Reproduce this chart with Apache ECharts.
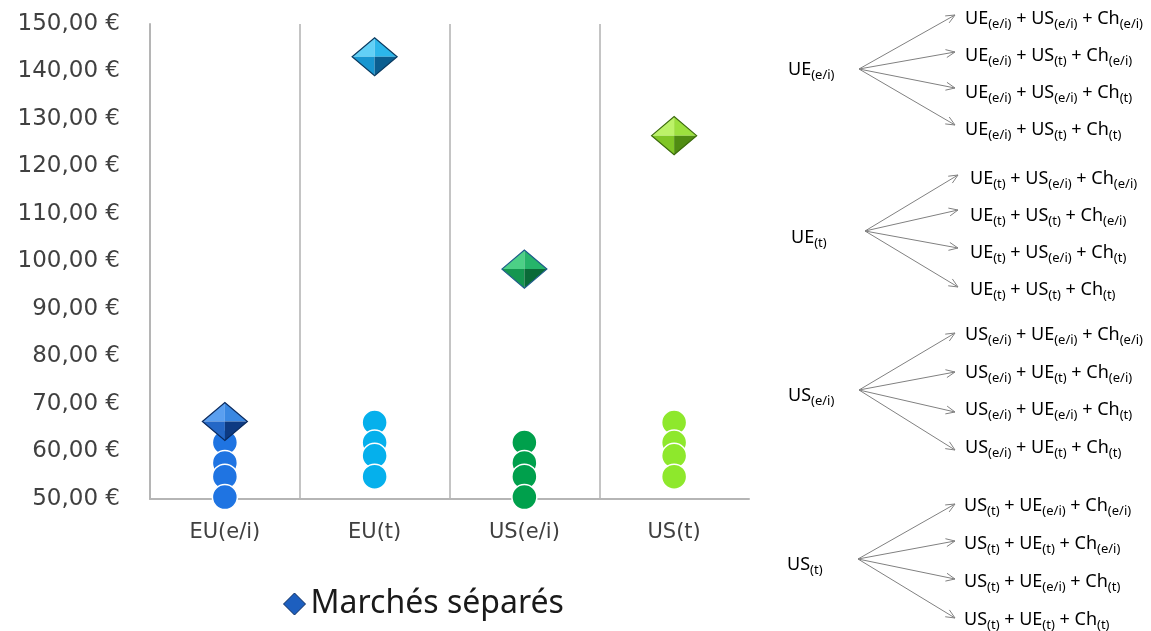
<!DOCTYPE html>
<html>
<head>
<meta charset="utf-8">
<title>Marchés séparés</title>
<script src="https://cdn.jsdelivr.net/npm/echarts@6/dist/echarts.min.js"></script>
<style>
  html, body { margin: 0; padding: 0; background: #fff; }
  #chart { width: 1151px; height: 631px; }
</style>
</head>
<body>
<div id="chart"></div>
<script>
// categories on the x axis
const categories = ['EU(e/i)', 'EU(t)', 'US(e/i)', 'US(t)'];
// y axis
const yMin = 50, yMax = 150, yStep = 10;

// diamonds : marchés séparés
const separateMarkets = [66.3, 143.1, 98.4, 126.5];

// circles : the 4 scenarios of each market (top to bottom)
const scenariosEUei = [61.9, 57.6, 54.7, 50.4];
const scenariosEUt  = [66.1, 61.9, 59.1, 54.7];
const scenariosUSei = [61.9, 57.6, 54.7, 50.4];
const scenariosUSt  = [66.1, 61.9, 59.1, 54.7];
const scenarios = [scenariosEUei, scenariosEUt, scenariosUSei, scenariosUSt];

// tree on the right ( "_" marks a subscript )
const treeRoots = ['UE_(e/i)', 'UE_(t)', 'US_(e/i)', 'US_(t)'];
const treeLeaves = [
  ['UE_(e/i) + US_(e/i) + Ch_(e/i)', 'UE_(e/i) + US_(t) + Ch_(e/i)', 'UE_(e/i) + US_(e/i) + Ch_(t)', 'UE_(e/i) + US_(t) + Ch_(t)'],
  ['UE_(t) + US_(e/i) + Ch_(e/i)', 'UE_(t) + US_(t) + Ch_(e/i)', 'UE_(t) + US_(e/i) + Ch_(t)', 'UE_(t) + US_(t) + Ch_(t)'],
  ['US_(e/i) + UE_(e/i) + Ch_(e/i)', 'US_(e/i) + UE_(t) + Ch_(e/i)', 'US_(e/i) + UE_(e/i) + Ch_(t)', 'US_(e/i) + UE_(t) + Ch_(t)'],
  ['US_(t) + UE_(e/i) + Ch_(e/i)', 'US_(t) + UE_(t) + Ch_(e/i)', 'US_(t) + UE_(e/i) + Ch_(t)', 'US_(t) + UE_(t) + Ch_(t)']
];

// styles
const circleColors = ['#1f74e2', '#05b0ec', '#00a04c', '#8ee82c'];
// diamond faces : top-left, top-right, bottom-left, bottom-right, edge
const diamondFaces = [
  ['#5a9ff0', '#3a88e2', '#2467c6', '#0d3a82', '#0a2a5e'],
  ['#62d0f6', '#2cb6ea', '#1896d0', '#0b5e90', '#0a3a60'],
  ['#4cd086', '#26b46a', '#149650', '#0a6a38', '#1d5a8a'],
  ['#bcf268', '#9ce03e', '#80c626', '#508c12', '#3a6a0a']
];
const treeLayout = [
  { rootX: 788, rootY: 70, forkX: 859, forkY: 69, tipX: 955, tips: [15, 52, 88, 125], leafX: 965, leafY: [19, 56, 93, 130] },
  { rootX: 791, rootY: 238, forkX: 865, forkY: 231, tipX: 958, tips: [175, 210, 248, 287], leafX: 970, leafY: [179, 216, 253, 290] },
  { rootX: 788, rootY: 396, forkX: 859, forkY: 390, tipX: 955, tips: [333, 372, 412, 450], leafX: 965, leafY: [335, 373, 410, 448] },
  { rootX: 787, rootY: 565, forkX: 858, forkY: 559, tipX: 955, tips: [504, 541, 579, 618], leafX: 964, leafY: [506, 544, 582, 620] }
];

function toRich(s) {
  return s.split(' ').map(function (part) {
    if (part === '+') return '{m| + }';
    const p = part.split('_');
    return '{m|' + p[0] + '}' + (p[1] ? '{s|' + p[1] + '}' : '');
  }).join('');
}
const richStyle = {
  m: { fontSize: 18, fontFamily: 'Noto Sans', color: '#111', lineHeight: 23 },
  s: { fontSize: 13, fontFamily: 'Noto Sans', color: '#111', lineHeight: 13, verticalAlign: 'bottom' }
};

function textEl(x, y, str) {
  return {
    type: 'text', x: x, y: y, silent: true,
    style: { text: toRich(str), rich: richStyle, verticalAlign: 'middle', align: 'left' }
  };
}

const graphics = [];
treeLayout.forEach(function (g, gi) {
  graphics.push(textEl(g.rootX, g.rootY, treeRoots[gi]));
  g.tips.forEach(function (ty, li) {
    const dx = g.tipX - g.forkX, dy = ty - g.forkY;
    const len = Math.sqrt(dx * dx + dy * dy);
    const ux = dx / len, uy = dy / len;
    const a = 9, b = 4;
    graphics.push({
      type: 'line', silent: true,
      shape: { x1: g.forkX, y1: g.forkY, x2: g.tipX, y2: ty },
      style: { stroke: '#808080', lineWidth: 1 }
    });
    graphics.push({
      type: 'polyline', silent: true,
      shape: { points: [
        [g.tipX - a * ux - b * uy, ty - a * uy + b * ux],
        [g.tipX, ty],
        [g.tipX - a * ux + b * uy, ty - a * uy - b * ux]
      ] },
      style: { stroke: '#808080', lineWidth: 1, fill: null }
    });
    graphics.push(textEl(g.leafX, g.leafY[li], treeLeaves[gi][li]));
  });
});

const circleData = [];
scenarios.forEach(function (arr, i) {
  arr.forEach(function (v) {
    circleData.push({ value: [i, v], itemStyle: { color: circleColors[i] } });
  });
});
const diamondData = separateMarkets.map(function (v, i) { return [i, v]; });

const chart = echarts.init(document.getElementById('chart'));
chart.setOption({
  animation: false,
  grid: { left: 150, right: 402, top: 24, bottom: 132 },
  legend: {
    data: [{ name: 'Marchés séparés', icon: 'diamond', itemStyle: { color: '#1d5fbf', borderColor: '#0a2a5e', borderWidth: 1 } }],
    left: 278, top: 583, itemWidth: 22, itemHeight: 22, itemGap: 6,
    textStyle: { fontSize: 32, fontFamily: 'Noto Sans', color: '#1a1a1a' }
  },
  xAxis: {
    type: 'category',
    data: categories,
    boundaryGap: true,
    axisLine: { lineStyle: { color: '#b5b5b5', width: 2 } },
    axisTick: { show: false },
    axisLabel: { fontSize: 21, fontFamily: 'DejaVu Sans', color: '#404040', margin: 23 },
    splitLine: { show: true, showMinLine: false, showMaxLine: false, lineStyle: { color: '#c4c4c4', width: 2 } }
  },
  yAxis: {
    type: 'value',
    min: yMin, max: yMax, interval: yStep,
    axisLine: { show: true, lineStyle: { color: '#b5b5b5', width: 2 } },
    axisTick: { show: false },
    splitLine: { show: false },
    axisLabel: {
      fontSize: 23, fontFamily: 'DejaVu Sans', color: '#404040', margin: 30,
      formatter: function (v) { return v.toFixed(2).replace('.', ',') + ' €'; }
    }
  },
  series: [
    {
      name: 'Scénarios',
      type: 'scatter',
      symbol: 'circle',
      symbolSize: 25,
      itemStyle: { borderColor: '#ffffff', borderWidth: 1.5, opacity: 1 },
      data: circleData,
      z: 2
    },
    {
      name: 'Marchés séparés',
      type: 'custom',
      itemStyle: { color: '#1d5fbf' },
      renderItem: function (params, api) {
        const c = api.coord([api.value(0), api.value(1)]);
        const f = diamondFaces[params.dataIndex];
        const w = 22.5, h = 19;
        const L = [c[0] - w, c[1]], R = [c[0] + w, c[1]], T = [c[0], c[1] - h], B = [c[0], c[1] + h], C = [c[0], c[1]];
        return {
          type: 'group',
          children: [
            { type: 'polygon', shape: { points: [L, T, C] }, style: { fill: f[0] } },
            { type: 'polygon', shape: { points: [T, R, C] }, style: { fill: f[1] } },
            { type: 'polygon', shape: { points: [L, C, B] }, style: { fill: f[2] } },
            { type: 'polygon', shape: { points: [C, R, B] }, style: { fill: f[3] } },
            { type: 'polygon', shape: { points: [L, T, R, B] }, style: { fill: null, stroke: f[4], lineWidth: 1.2 } }
          ]
        };
      },
      data: diamondData,
      z: 5
    }
  ],
  graphic: graphics
});
</script>
</body>
</html>
